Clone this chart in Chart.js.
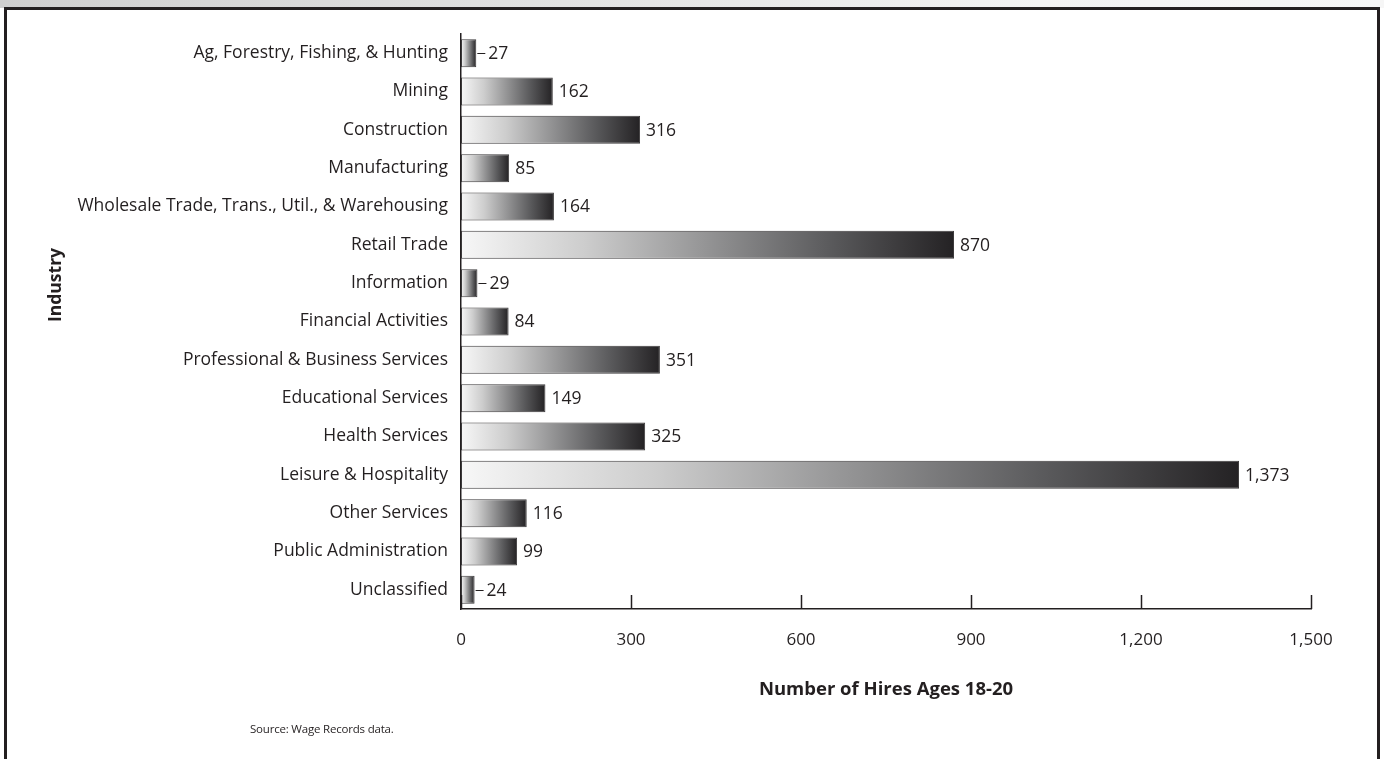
<!DOCTYPE html>
<html>
<head>
<meta charset="utf-8">
<title>Number of Hires Ages 18-20 by Industry</title>
<script src="https://cdn.jsdelivr.net/npm/chart.js@4.4.1/dist/chart.umd.min.js"></script>
<style>
  html, body { margin: 0; padding: 0; width: 1384px; height: 759px; overflow: hidden; background: #fff; }
  .band { position: absolute; left: 0; top: 0; width: 1384px; height: 8px;
          background: linear-gradient(to right, #cfcfcf 0%, #e4e4e4 45%, #f3f3f3 75%, #f6f6f6 100%); }
  .frame { position: absolute; left: 4px; top: 7px; width: 1370px; height: 800px;
           border: 3px solid #231f20; background: #fff; }
  #wrap { position: absolute; left: 0; top: 0; width: 1384px; height: 759px; }
  .source { position: absolute; left: 250px; top: 721px; font: 11.5px "Open Sans", sans-serif;
            color: #231f20; letter-spacing: -0.2px; }
</style>
</head>
<body>
<div class="band"></div>
<div class="frame"></div>
<div id="wrap"><canvas id="chart"></canvas></div>
<div class="source">Source: Wage Records data.</div>
<script>
// Industries, top to bottom
const industries = [
  'Ag, Forestry, Fishing, & Hunting',
  'Mining',
  'Construction',
  'Manufacturing',
  'Wholesale Trade, Trans., Util., & Warehousing',
  'Retail Trade',
  'Information',
  'Financial Activities',
  'Professional & Business Services',
  'Educational Services',
  'Health Services',
  'Leisure & Hospitality',
  'Other Services',
  'Public Administration',
  'Unclassified'
];

// Hires ages 18-20 per industry
const hires = [27, 162, 316, 85, 164, 870, 29, 84, 351, 149, 325, 1373, 116, 99, 24];

// Value axis ticks
const xTicks = [0, 300, 600, 900, 1200, 1500];

const ink = '#231f20';
const fontFamily = '"Open Sans", "Noto Sans", sans-serif';
const labelSize = 17.5;
const tickSize = 17;
const titleSize = 18.5;

// Horizontal light-to-dark gradient spanning each bar's own length
function barGradient(ctx) {
  const chart = ctx.chart;
  if (!chart.chartArea || ctx.type !== 'data') return '#9a9a9a';
  const xs = chart.scales.x;
  const x0 = xs.getPixelForValue(0);
  const x1 = xs.getPixelForValue(ctx.raw);
  const g = chart.ctx.createLinearGradient(x0, 0, Math.max(x1, x0 + 1), 0);
  g.addColorStop(0, '#f7f7f7');
  g.addColorStop(0.25, '#cdcdcd');
  g.addColorStop(0.75, '#5a5a5c');
  g.addColorStop(1, '#242224');
  return g;
}

// Short upward tick marks on the value axis
const innerTicks = {
  id: 'innerTicks',
  afterDraw(chart) {
    const xs = chart.scales.x;
    const { ctx, chartArea } = chart;
    ctx.save();
    ctx.strokeStyle = ink;
    ctx.lineWidth = 1.5;
    xs.ticks.forEach(t => {
      const px = Math.round(xs.getPixelForValue(t.value)) + 0.5;
      ctx.beginPath();
      ctx.moveTo(px, chartArea.bottom);
      ctx.lineTo(px, chartArea.bottom - 14);
      ctx.stroke();
    });
    ctx.restore();
  }
};

// Value labels at the end of each bar; short bars get a leader line
const barValueLabels = {
  id: 'barValueLabels',
  afterDatasetsDraw(chart) {
    const { ctx } = chart;
    const meta = chart.getDatasetMeta(0);
    ctx.save();
    ctx.font = labelSize + 'px ' + fontFamily;
    ctx.fillStyle = ink;
    ctx.strokeStyle = ink;
    ctx.lineWidth = 1;
    ctx.textBaseline = 'middle';
    ctx.textAlign = 'left';
    meta.data.forEach((bar, i) => {
      const v = chart.data.datasets[0].data[i];
      const end = bar.x;
      const y = bar.y + 1;
      const text = v.toLocaleString('en-US');
      if (end - bar.base < 20) {
        ctx.beginPath();
        ctx.moveTo(end + 1, Math.round(bar.y) + 0.5);
        ctx.lineTo(end + 9, Math.round(bar.y) + 0.5);
        ctx.stroke();
        ctx.fillText(text, end + 12, y);
      } else {
        ctx.fillText(text, end + 6, y);
      }
    });
    ctx.restore();
  }
};

// Rotated category-axis title
const industryTitle = {
  id: 'industryTitle',
  afterDraw(chart) {
    const { ctx } = chart;
    ctx.save();
    ctx.translate(56, 285);
    ctx.rotate(-Math.PI / 2);
    ctx.font = 'bold 17.5px ' + fontFamily;
    ctx.fillStyle = ink;
    ctx.textAlign = 'center';
    ctx.textBaseline = 'middle';
    ctx.fillText('Industry', 0, 0);
    ctx.restore();
  }
};

new Chart(document.getElementById('chart'), {
  type: 'bar',
  data: {
    labels: industries,
    datasets: [{
      data: hires,
      backgroundColor: barGradient,
      borderColor: '#3c3a3b',
      borderWidth: 1,
      borderSkipped: false,
      categoryPercentage: 1,
      barPercentage: 0.73
    }]
  },
  options: {
    indexAxis: 'y',
    responsive: true,
    maintainAspectRatio: false,
    animation: false,
    layout: { padding: { top: 34, right: 73, bottom: 0, left: 0 } },
    plugins: {
      legend: { display: false },
      tooltip: { enabled: false }
    },
    scales: {
      x: {
        min: 0,
        max: 1500,
        afterBuildTicks(scale) { scale.ticks = xTicks.map(v => ({ value: v })); },
        afterFit(scale) { scale.height = 150; },
        grid: { display: false, drawTicks: false },
        border: { display: true, color: ink, width: 1.5 },
        ticks: {
          padding: 21,
          color: ink,
          font: { family: fontFamily, size: tickSize },
          callback: v => Number(v).toLocaleString('en-US')
        },
        title: {
          display: true,
          text: 'Number of Hires Ages 18-20',
          color: ink,
          font: { family: fontFamily, size: titleSize, weight: 'bold' },
          padding: { top: 0, bottom: 58 }
        }
      },
      y: {
        afterFit(scale) { scale.width = 461; },
        grid: { display: false, drawTicks: false },
        border: { display: true, color: ink, width: 1.5 },
        ticks: {
          padding: 13,
          color: ink,
          autoSkip: false,
          font: { family: fontFamily, size: labelSize }
        }
      }
    }
  },
  plugins: [innerTicks, barValueLabels, industryTitle]
});
</script>
</body>
</html>
